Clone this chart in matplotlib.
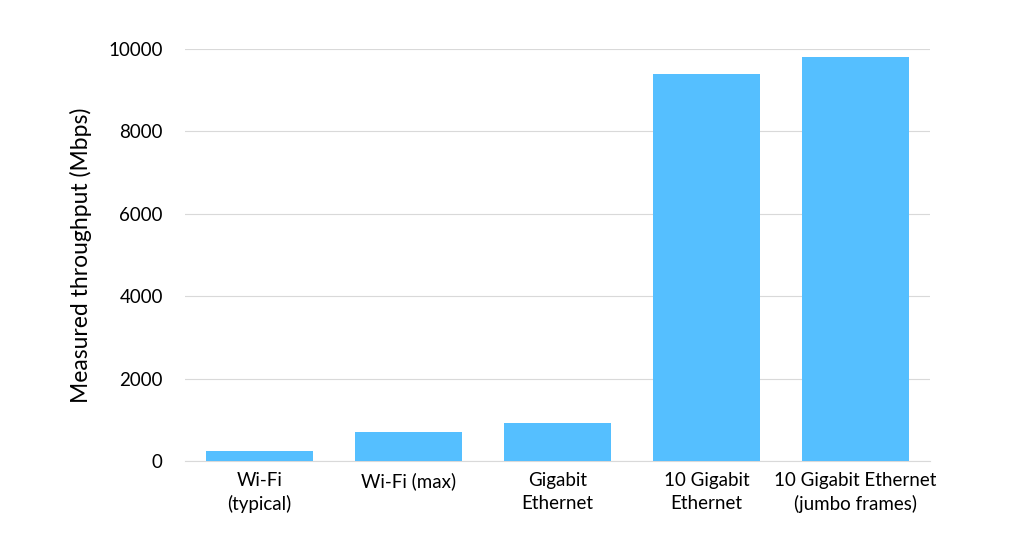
import matplotlib.pyplot as plt

plt.rcParams['font.family'] = ['Lato', 'DejaVu Sans']

categories = ["Wi-Fi\n(typical)", "Wi-Fi (max)", "Gigabit\nEthernet",
              "10 Gigabit\nEthernet", "10 Gigabit Ethernet\n(jumbo frames)"]
throughput = [250, 710, 930, 9400, 9800]

fig = plt.figure(figsize=(10.24, 5.48), dpi=100)
ax = fig.add_axes([185 / 1024, 1 - 461 / 548, 745 / 1024, 412 / 548])

ax.bar(range(len(categories)), throughput, width=0.72, color="#55BFFF", zorder=3)
ax.set_xlim(-0.5, len(categories) - 0.5)
ax.set_ylim(0, 10000)
ax.set_yticks(range(0, 10001, 2000))
ax.set_xticks(range(len(categories)))
ax.set_xticklabels(categories, fontsize=13.5, linespacing=1.4)
ax.tick_params(axis="y", labelsize=13.5, length=0, pad=16)
ax.tick_params(axis="x", length=0, pad=8)
ax.grid(axis="y", color="#d9d9d9", linewidth=0.8, zorder=0)
for s in ax.spines.values():
    s.set_visible(False)
ax.spines["bottom"].set_visible(True)
ax.spines["bottom"].set_color("#d9d9d9")
ax.set_ylabel("Measured throughput (Mbps)", fontsize=16.5, labelpad=12)

fig.savefig("out.png", dpi=100)
